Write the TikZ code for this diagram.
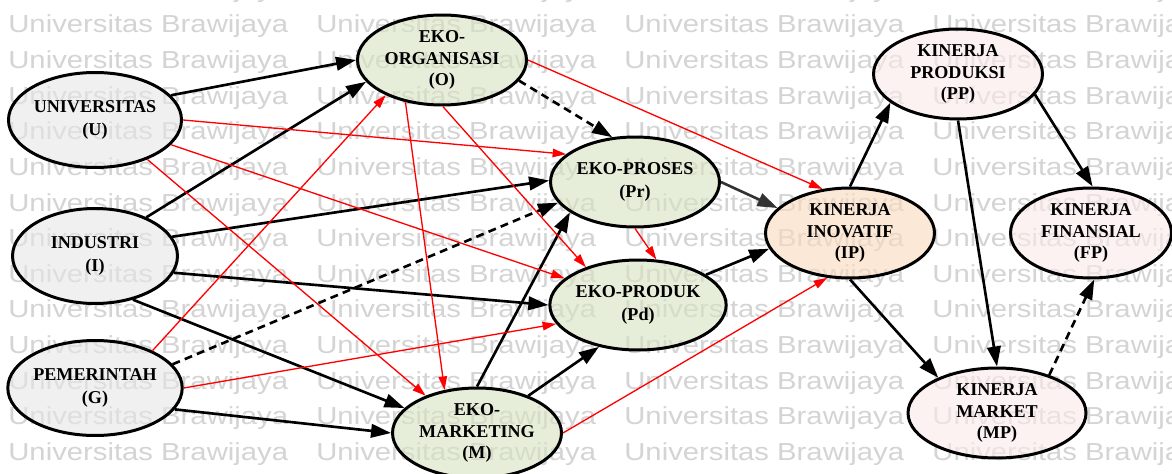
\documentclass[tikz,border=0pt]{standalone}
\usepackage{fontspec}
\setmainfont{Liberation Serif}
\newfontfamily\wmfont[FakeStretch=1.19]{Liberation Sans}
\usetikzlibrary{shapes.geometric,arrows.meta}
\definecolor{gfill}{RGB}{230,230,230}
\definecolor{efill}{RGB}{214,226,192}
\definecolor{ifill}{RGB}{250,218,188}
\definecolor{kfill}{RGB}{251,234,234}
\definecolor{wmgray}{RGB}{212,212,212}
\definecolor{dgray}{RGB}{51,51,51}
\tikzset{
  nd/.style={ellipse, draw, line width=1.7pt, inner sep=0pt, align=center,
    fill opacity=0.6, text opacity=1, draw opacity=1,
    font=\bfseries\fontsize{10.3}{12.4}\selectfont},
  gnd/.style={nd, fill=gfill, minimum width=3.3cm, minimum height=1.9cm},
  end/.style={nd, fill=efill, minimum width=3.38cm, minimum height=1.8cm},
  ind/.style={nd, fill=ifill, minimum width=3.38cm, minimum height=1.8cm},
  knd/.style={nd, fill=kfill, minimum width=3.38cm, minimum height=1.8cm},
  blk/.style={line width=1.5pt, -{Triangle[length=0.4cm,width=0.27cm]}},
  dsh/.style={blk, dash pattern=on 4.5pt off 3pt},
  rd/.style={red, line width=0.75pt, -{Triangle[length=0.27cm,width=0.17cm]}},
  wm/.style={anchor=base west, inner sep=0pt, text=wmgray,
    font=\wmfont\fontsize{14}{14}\selectfont}
}
\begin{document}
\begin{tikzpicture}[x=0.02cm, y=-0.02cm]
\clip (0,0) rectangle (1172,473);
\fill[white] (0,0) rectangle (1172,473);
% watermark
\foreach \r in {-1,0,...,12}{
  \foreach \c/\xx in {0/8,1/316,2/624,3/932}{
    \node[wm] (wm-\r-\c) at (\xx,{33+35.6*\r}) {Universitas Brawijaya};
  }
}
% nodes
\node[gnd] (U) at (95,120) {UNIVERSITAS\\[1pt](U)};
\node[gnd] (I) at (95,256) {INDUSTRI\\[1pt](I)};
\node[gnd] (G) at (95,388) {PEMERINTAH\\[1pt](G)};
\node[end] (O) at (442,60) {EKO-\\ORGANISASI\\(O)};
\node[end] (Pr) at (635,182) {EKO-PROSES\\[1pt](Pr)};
\node[end] (Pd) at (638,305) {EKO-PRODUK\\[1pt](Pd)};
\node[end] (M) at (477,433) {EKO-\\MARKETING\\(M)};
\node[ind] (IP) at (850,233) {KINERJA\\INOVATIF\\(IP)};
\node[knd] (PP) at (958,74) {KINERJA\\PRODUKSI\\(PP)};
\node[knd, minimum width=3.22cm] (FP) at (1091,233) {KINERJA\\FINANSIAL\\(FP)};
\node[knd, minimum width=3.56cm] (MP) at (997,413) {KINERJA\\MARKET\\(MP)};
% black edges
\draw[blk] (U.18) -- (O.180);
\draw[blk] (I.37) -- (O.196);
\draw[blk] (I.14) -- (Pr.179);
\draw[blk] (I.-12) -- (Pd.180);
\draw[blk] (I.-49) -- (M.161);
\draw[blk] (G.-15) -- (M.180);
\draw[blk] (M.90) -- (Pr.205);
\draw[blk] (M.36) -- (Pd.227);
\draw[blk, color=dgray] (Pr.0) -- (IP.161);
\draw[blk] (Pd.24) -- (IP.191);
\draw[blk] (IP.90) -- (PP.203);
\draw[blk] (IP.270) -- (MP.149);
\draw[blk] (PP.-15) -- (FP.88);
\draw[blk] (PP.270) -- (MP.90);
% dashed edges
\draw[dsh] (O.-15) -- (Pr.117);
\draw[dsh] (G.17) -- (Pr.195);
\draw[dsh] (MP.36) -- (FP.274);
% red edges
\draw[rd] (U.0) -- (Pr.158);
\draw[rd] (U.-18) -- (Pd.160);
\draw[rd] (U.-37) -- (M.144);
\draw[rd] (G.33) -- (O.212);
\draw[rd] (G.0) -- (Pd.193);
\draw[rd] (O.0) -- (IP.122);
\draw[rd] (O.-89) -- (Pd.144);
\draw[rd] (O.229) -- (M.127);
\draw[rd] (Pr.270) -- (Pd.68);
\draw[rd] (M.0) -- (IP.243);
\end{tikzpicture}
\end{document}
